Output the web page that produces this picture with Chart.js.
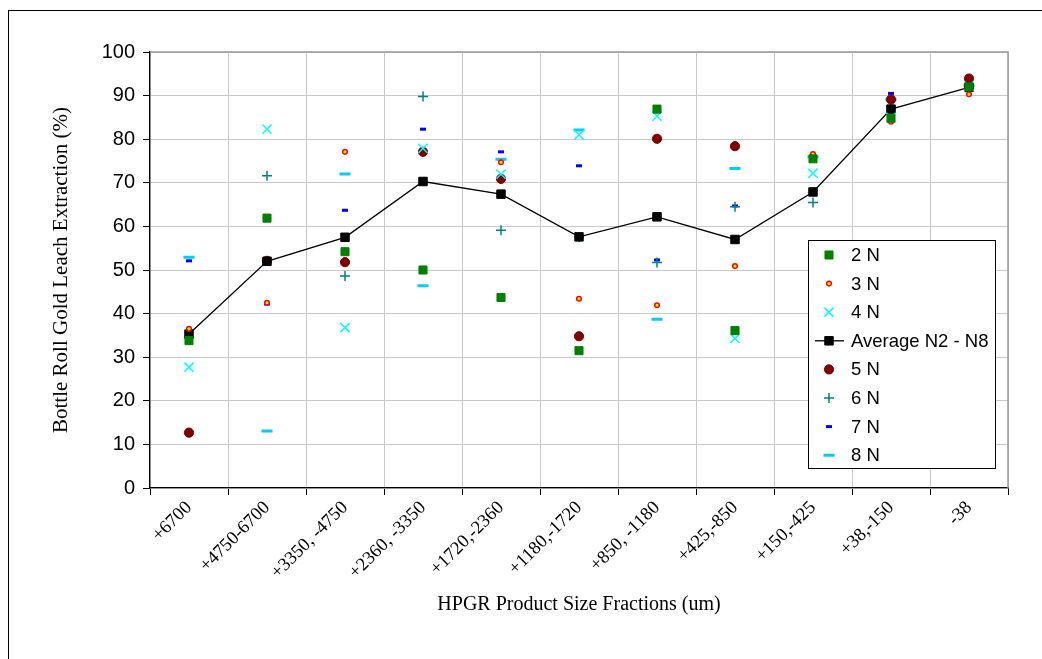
<!DOCTYPE html>
<html>
<head>
<meta charset="utf-8">
<script src="https://cdn.jsdelivr.net/npm/chart.js@4.4.1/dist/chart.umd.min.js"></script>
<style>
  html, body { margin: 0; padding: 0; background: #fff; }
  canvas { display: block; }
</style>
</head>
<body>
<canvas id="chart" width="1042" height="659"></canvas>
<script>
// size fractions (um)
const categories = ['+6700', '+4750-6700', '+3350, -4750', '+2360, -3350', '+1720,-2360',
    '+1180,-1720', '+850, -1180', '+425,-850', '+150,-425', '+38,-150', '-38']

// extraction % per sample
const n2 = [33.8, 61.9, 54.2, 50.0, 43.7, 31.5, 86.9, 36.1, 75.5, 84.8, 92.0]
const n3 = [36.5, 42.5, 77.1, null, 74.7, 43.4, 41.9, 50.9, 76.6, 84.0, 90.3]
const n4 = [27.7, 82.3, 36.8, 77.9, 72.0, 81.0, 85.3, 34.3, 72.2, 85.0, 92.2]
const avgN2N8 = [35.3, 52.0, 57.5, 70.3, 67.4, 57.6, 62.2, 57.0, 67.9, 86.9, 91.9]
const n5 = [12.7, 52.1, 51.8, 77.1, 70.9, 34.8, 80.1, 78.4, null, 89.1, 93.9]
const n6 = [34.5, 71.6, 48.6, 89.8, 59.1, 57.5, 51.7, 64.5, 65.5, 87.5, 92.5]
const n7 = [52.1, 42.2, 63.7, 82.3, 77.1, 73.9, 52.3, 64.7, null, 90.5, 93.0]
const n8 = [52.9, 13.1, 72.0, 46.4, 75.4, 82.1, 38.7, 73.3, 76.0, 89.1, 92.3]

const yTicks = [0, 10, 20, 30, 40, 50, 60, 70, 80, 90, 100]

const SANS = "'Liberation Sans', Arial, sans-serif"
const SERIF = "'Liberation Serif', 'Times New Roman', serif"

function markers(label, data, style, radius, fill, stroke, width) {
    return {
        label, data,
        showLine: false,
        pointStyle: style,
        pointRadius: radius,
        pointHoverRadius: radius,
        pointBackgroundColor: fill,
        pointBorderColor: stroke,
        pointBorderWidth: width,
        backgroundColor: fill,
        borderColor: stroke,
    }
}

const datasets = [
    markers('2 N', n2, 'rect', 5.7, '#008000', '#008000', 1),
    markers('3 N', n3, 'circle', 2.3, '#ffff00', '#ff0000', 1.5),
    markers('4 N', n4, 'crossRot', 6.5, '#00ffff', '#00ffff', 1.5),
    {
        label: 'Average N2 - N8', data: avgN2N8,
        showLine: true, borderColor: '#000', borderWidth: 1.3, tension: 0,
        pointStyle: 'rect', pointRadius: 6, pointHoverRadius: 6,
        pointBackgroundColor: '#000', pointBorderColor: '#000', pointBorderWidth: 1,
        backgroundColor: '#000',
    },
    markers('5 N', n5, 'circle', 4.6, '#800000', '#800000', 1),
    markers('6 N', n6, 'cross', 5, '#008080', '#008080', 1.5),
    markers('7 N', n7, 'line', 3, '#0000ff', '#0000ff', 3),
    markers('8 N', n8, 'line', 5.5, '#00ccff', '#00ccff', 3),
]

// outer frame + darker top/right plot border
const framePlugin = {
    id: 'frame',
    beforeDraw(chart) {
        const ctx = chart.ctx
        ctx.save()
        ctx.fillStyle = '#fff'
        ctx.fillRect(0, 0, chart.width, chart.height)
        ctx.strokeStyle = '#000'
        ctx.lineWidth = 1
        ctx.strokeRect(8.5, 10.5, chart.width + 20, chart.height + 20)
        ctx.restore()
    },
    afterDatasetsDraw(chart) {
        const { ctx, chartArea: ca } = chart
        ctx.save()
        ctx.strokeStyle = '#999'
        ctx.lineWidth = 1.5
        ctx.beginPath()
        ctx.moveTo(ca.left, ca.top)
        ctx.lineTo(ca.right, ca.top)
        ctx.lineTo(ca.right, ca.bottom)
        ctx.stroke()
        ctx.restore()
    }
}

// legend box inside the plot, lower right
const boxLegend = {
    id: 'boxLegend',
    afterDraw(chart) {
        const { ctx, chartArea: ca } = chart
        const left = ca.right - 200, top = ca.top + 188
        const w = 187, h = 228, step = 28.6
        ctx.save()
        ctx.fillStyle = '#fff'
        ctx.fillRect(left, top, w, h)
        ctx.strokeStyle = '#000'
        ctx.lineWidth = 1
        ctx.strokeRect(left + 0.5, top + 0.5, w, h)
        ctx.font = '18.5px ' + SANS
        ctx.textBaseline = 'middle'
        chart.data.datasets.forEach((ds, i) => {
            const y = top + 15 + i * step
            const mx = left + 21
            if (ds.showLine) {
                ctx.strokeStyle = ds.borderColor
                ctx.lineWidth = ds.borderWidth
                ctx.beginPath()
                ctx.moveTo(left + 7, y)
                ctx.lineTo(left + 36, y)
                ctx.stroke()
            }
            ctx.fillStyle = ds.pointBackgroundColor
            ctx.strokeStyle = ds.pointBorderColor
            ctx.lineWidth = ds.pointBorderWidth
            Chart.helpers.drawPoint(ctx, {
                pointStyle: ds.pointStyle, radius: ds.pointRadius,
                rotation: 0, borderWidth: ds.pointBorderWidth
            }, mx, y)
            ctx.fillStyle = '#000'
            ctx.fillText(ds.label, left + 43, y + 1)
        })
        ctx.restore()
    }
}

new Chart(document.getElementById('chart'), {
    type: 'line',
    data: { labels: categories, datasets },
    options: {
        responsive: false,
        devicePixelRatio: 1,
        animation: false,
        events: [],
        layout: { padding: { top: 52, right: 34, left: 0, bottom: 0 } },
        plugins: { legend: { display: false }, tooltip: { enabled: false } },
        scales: {
            x: {
                type: 'category',
                offset: true,
                afterFit(scale) { scale.height = 171 },
                grid: { offset: true, color: '#c8c8c8', tickColor: '#000', tickLength: 7, lineWidth: 1 },
                border: { color: '#000', width: 1.3 },
                ticks: {
                    autoSkip: false, minRotation: 45, maxRotation: 45, padding: 2,
                    color: '#000', font: { family: SERIF, size: 18.5 }
                },
                title: {
                    display: true, text: 'HPGR Product Size Fractions (um)',
                    color: '#000', font: { family: SERIF, size: 20 },
                    padding: { top: 0, bottom: 42 }
                }
            },
            y: {
                min: 0, max: 100,
                afterFit(scale) { scale.width = 150 },
                afterBuildTicks(scale) { scale.ticks = yTicks.map(v => ({ value: v })) },
                grid: { color: '#c8c8c8', tickColor: '#000', tickLength: 7, lineWidth: 1 },
                border: { color: '#000', width: 1.3 },
                ticks: { padding: 8, color: '#000', font: { family: SANS, size: 20 } },
                title: {
                    display: true, text: 'Bottle Roll Gold Leach Extraction (%)',
                    color: '#000', font: { family: SERIF, size: 21 },
                    padding: { top: 49, bottom: 0 }
                }
            }
        }
    },
    plugins: [framePlugin, boxLegend]
})
</script>
</body>
</html>
